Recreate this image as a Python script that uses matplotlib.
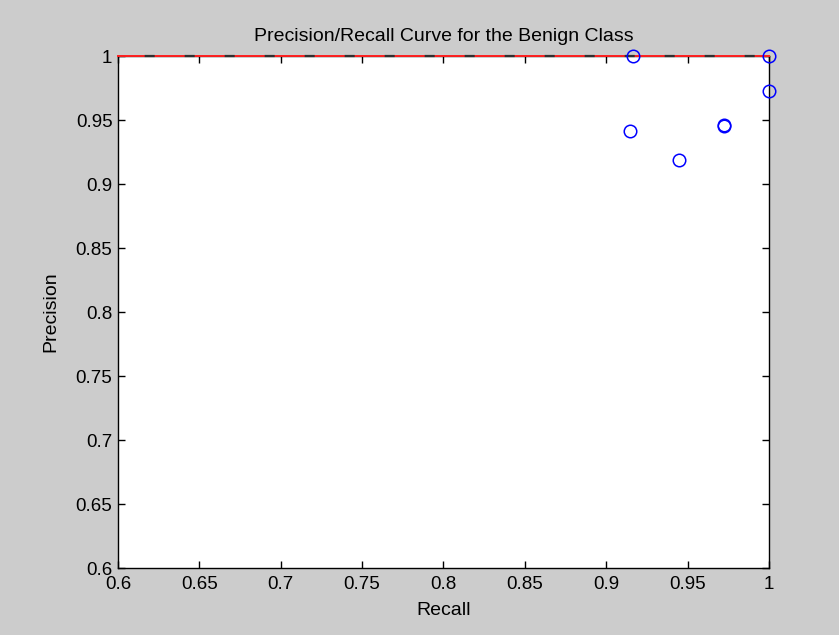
import numpy as np
import matplotlib.pyplot as plt

plt.rcParams['font.family'] = ['Liberation Sans', 'DejaVu Sans']

# recall / precision points
recall = [0.9167, 1.0, 1.0, 0.9143, 0.9444, 0.9722, 0.9725]
precision = [1.0, 1.0, 0.9730, 0.9412, 0.9189, 0.9459, 0.9455]

# the reference line at precision = 1
ref_x = [0.6, 1.0]
ref_y = [1.0, 1.0]

xticks = [0.6, 0.65, 0.7, 0.75, 0.8, 0.85, 0.9, 0.95, 1.0]
yticks = [0.6, 0.65, 0.7, 0.75, 0.8, 0.85, 0.9, 0.95, 1.0]
tick_labels = ['0.6', '0.65', '0.7', '0.75', '0.8', '0.85', '0.9', '0.95', '1']

fig = plt.figure(figsize=(8.39, 6.35), dpi=100, facecolor='#cccccc')
ax = fig.add_axes([0.1406, 0.1055, 0.9166 - 0.1406, 0.9118 - 0.1055])
ax.set_facecolor('white')

ax.plot(ref_x, ref_y, color='#ff2020', lw=1.4, zorder=3, clip_on=False)
ax.plot(ref_x, ref_y, color='#303030', lw=1.6, zorder=3.5, clip_on=False,
        linestyle=(-12, (4.5, 13.5)))
ax.plot(recall, precision, 'o', mfc='none', mec='blue', ms=9, mew=1.1,
        zorder=4, clip_on=False)

ax.set_xlim(0.6, 1.0)
ax.set_ylim(0.6, 1.0)
ax.set_xticks(xticks)
ax.set_yticks(yticks)
ax.set_xticklabels(tick_labels)
ax.set_yticklabels(tick_labels)
ax.tick_params(direction='in', top=True, right=True, length=5, width=1,
               labelsize=13.5)
ax.tick_params(axis='x', pad=6)
ax.tick_params(axis='y', pad=4)
for s in ax.spines.values():
    s.set_linewidth(1)
    s.set_color('black')

ax.set_title('Precision/Recall Curve for the Benign Class', fontsize=14, pad=11)
ax.set_xlabel('Recall', fontsize=14, labelpad=6)
ax.set_ylabel('Precision', fontsize=14, labelpad=12)

fig.savefig('out.png', dpi=100, facecolor=fig.get_facecolor())
